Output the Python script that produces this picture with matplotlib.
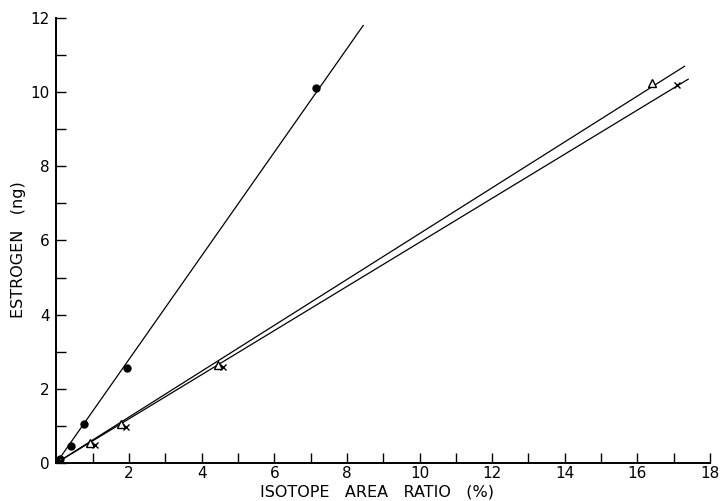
import matplotlib
matplotlib.use("Agg")
import matplotlib.pyplot as plt

# Filled-circle series
dot_x = [0.0, 0.1, 0.4, 0.77, 1.95, 7.15]
dot_y = [0.0, 0.1, 0.46, 1.05, 2.55, 10.1]
dot_line_x = [0.0, 8.45]
dot_line_y = [0.0, 11.8]

# Open-triangle series
tri_x = [0.0, 0.1, 0.93, 1.78, 4.44, 16.4]
tri_y = [0.0, 0.05, 0.54, 1.05, 2.65, 10.25]
tri_line_x = [0.0, 17.3]
tri_line_y = [0.0, 10.7]

# Cross series
crs_x = [0.0, 0.1, 1.07, 1.92, 4.58, 17.1]
crs_y = [0.0, 0.05, 0.49, 0.97, 2.6, 10.2]
crs_line_x = [0.0, 17.4]
crs_line_y = [0.0, 10.35]

x_major = [2, 4, 6, 8, 10, 12, 14, 16, 18]
y_major = [0, 2, 4, 6, 8, 10, 12]

fig = plt.figure(figsize=(7.23, 5.01), dpi=100)
ax = fig.add_axes([0.078, 0.076, 0.904, 0.888])

lk = dict(color="black", lw=0.9)
ax.plot(dot_line_x, dot_line_y, **lk)
ax.plot(tri_line_x, tri_line_y, **lk)
ax.plot(crs_line_x, crs_line_y, **lk)

ax.plot(dot_x, dot_y, "o", color="black", ms=5, ls="none")
ax.plot(tri_x, tri_y, "^", mfc="white", mec="black", ms=6, mew=1.0, ls="none")
ax.plot(crs_x, crs_y, "x", color="black", ms=5, mew=1.0, ls="none")

ax.set_xlim(0, 18)
ax.set_ylim(0, 12)
for s in ["top", "right"]:
    ax.spines[s].set_visible(False)
for s in ["left", "bottom"]:
    ax.spines[s].set_linewidth(1.4)

ax.set_xticks(x_major)
ax.set_xticklabels([str(v) for v in x_major])
ax.set_xticks([1, 3, 5, 7, 9, 11, 13, 15, 17], minor=True)
ax.set_yticks(y_major)
ax.set_yticklabels([str(v) for v in y_major])
ax.set_yticks([1, 3, 5, 7, 9, 11], minor=True)
ax.tick_params(which="both", direction="in", length=7, width=1.0, labelsize=11, colors="black")
ax.tick_params(axis="x", pad=2)
ax.tick_params(axis="y", pad=5)

ax.set_xlabel("ISOTOPE   AREA   RATIO   (%)", fontsize=11.5, va="center")
ax.xaxis.set_label_coords(0.49, -0.065)
ax.set_ylabel("ESTROGEN   (ng)", fontsize=11.5, va="center")
ax.yaxis.set_label_coords(-0.058, 0.48)

fig.savefig("out.png", dpi=100, facecolor="white")
